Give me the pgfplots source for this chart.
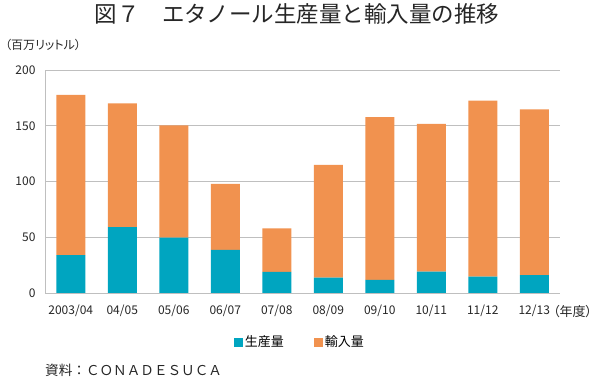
\documentclass[border=0pt]{standalone}
\usepackage{fontspec}
\setmainfont{Noto Sans CJK JP}
\newfontfamily\paltfont[RawFeature=+palt]{Noto Sans CJK JP}
\usepackage{pgfplots}
\pgfplotsset{compat=1.18}
\definecolor{prod}{RGB}{0,165,192}
\definecolor{imp}{RGB}{241,146,79}
\definecolor{gridc}{RGB}{191,191,191}
\begin{document}
\begin{tikzpicture}
\useasboundingbox (0,0) rectangle (600pt,379pt);
\begin{axis}[
  at={(45pt,86pt)}, anchor=south west,
  scale only axis, width=515pt, height=223pt,
  ybar stacked, bar width=29pt,
  xmin=-0.5, xmax=9.5, ymin=0, ymax=200,
  xtick=data,
  xticklabels={2003/04,04/05,05/06,06/07,07/08,08/09,09/10,10/11,11/12,12/13},
  ytick={0,50,100,150,200},
  ymajorgrids, grid style={color=gridc, line width=0.9pt},
  axis x line=bottom, axis y line=left,
  axis line style={-, color=gridc, line width=0.9pt},
  major tick length=0pt,
  /pgf/number format/assume math mode=true,
  tick label style={font=\fontsize{12}{14}\selectfont, text=black!85},
  yticklabel style={xshift=-6pt},
  xticklabel style={yshift=-8pt},
  legend style={at={(0.495,-0.22)}, anchor=center, draw=none, fill=none,
    legend columns=2, font=\fontsize{13}{15}\selectfont,
    /tikz/every even column/.append style={column sep=28pt}},
  legend image code/.code={\fill[#1] (0pt,-4.5pt) rectangle (9pt,4.5pt);},
]
\addplot[fill=prod, draw=none] coordinates {(0,34) (1,59) (2,49.6) (3,38.6) (4,19) (5,13.7) (6,11.7) (7,19.1) (8,14.6) (9,16.1)};
\addlegendentry{生産量}
\addplot[fill=imp, draw=none] coordinates {(0,143.6) (1,111) (2,100.8) (3,59.2) (4,39) (5,101.3) (6,146.1) (7,132.5) (8,157.9) (9,148.6)};
\addlegendentry{輸入量}
\end{axis}
\node[font=\fontsize{22.5}{26}\selectfont, text=black!85] at (297pt,365pt) {図７　エタノール生産量と輸入量の推移};
\node[anchor=west, font=\paltfont\fontsize{12}{14}\selectfont, text=black!85, inner sep=0pt] at (5pt,334pt) {（百万リットル）};
\node[anchor=west, font=\paltfont\fontsize{13}{14}\selectfont, text=black!85, inner sep=0pt] at (553pt,67pt) {（年度）};
\node[anchor=west, font=\fontsize{13.6}{15}\selectfont, text=black!85, inner sep=0pt] at (45pt,9pt) {資料：ＣＯＮＡＤＥＳＵＣＡ};
\end{tikzpicture}
\end{document}
